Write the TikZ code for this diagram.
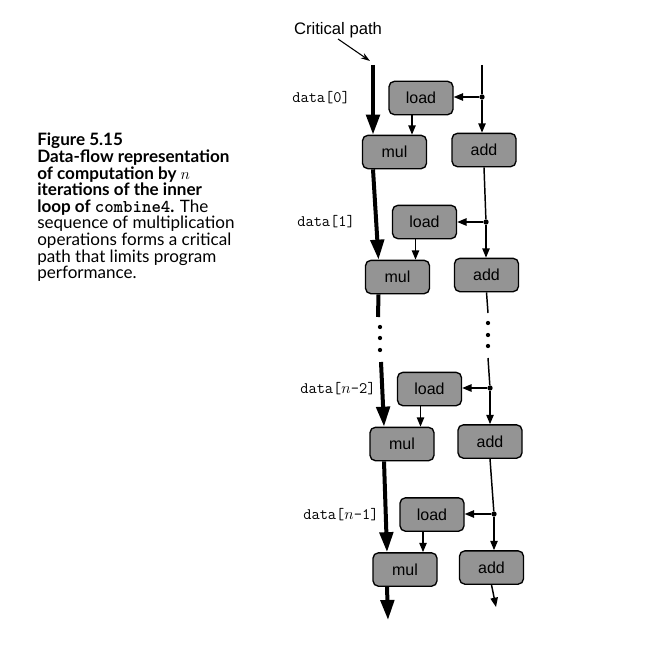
\documentclass[tikz,border=0pt]{standalone}
\usepackage{fontspec}
\setmainfont{Lato}
\setsansfont{Liberation Sans}
\usetikzlibrary{arrows.meta}
\tikzset{
  opbox/.style={draw, line width=1pt, rounded corners=4pt, fill=black!42,
    minimum width=48pt, minimum height=25pt, inner sep=0pt,
    font=\sffamily\fontsize{12}{12}\selectfont},
  critline/.style={line width=3pt, -{Triangle[width=10pt,length=15pt]}},
  critseg/.style={line width=3pt},
  flowline/.style={line width=1.1pt, -{Triangle[width=5.5pt,length=7pt]}},
  flowseg/.style={line width=1.1pt},
  dataname/.style={anchor=west, inner sep=0pt, font=\ttfamily\fontsize{12}{12}\selectfont},
  jdot/.style={circle, fill=black, inner sep=0pt, minimum size=4pt},
  vdot/.style={circle, fill=black, inner sep=0pt, minimum size=3.2pt},
}
\begin{document}
\begin{tikzpicture}[x=0.75pt, y=-0.75pt]
  %%%%% START %%%%%
  \useasboundingbox (0,0) rectangle (654,660);

  \node[anchor=north west, align=left, inner sep=0pt, font=\fontsize{12.8}{12.45}\selectfont] (caption) at (37,133)
    {\textbf{Figure 5.15}\\
     \textbf{Data-flow representation}\\
     \textbf{of computation by $n$}\\
     \textbf{iterations of the inner}\\
     \textbf{loop of {\fontsize{13.5}{12}\selectfont\texttt{combine4}}. }The\\
     sequence of multiplication\\
     operations forms a critical\\
     path that limits program\\
     performance.};

  \node[font=\sffamily\fontsize{12.5}{12}\selectfont] (critlabel) at (338,30) {Critical path};

  % iteration 0
  \node[dataname] (data0) at (292,98) {data[0]};
  \node[opbox] (load0) at (421,98) {load};
  \node[opbox] (mul0) at (394.5,152) {mul};
  \node[opbox] (add0) at (484,150) {add};
  % iteration 1
  \node[dataname] (data1) at (297,222) {data[1]};
  \node[opbox] (load1) at (424.5,222) {load};
  \node[opbox] (mul1) at (397.5,277) {mul};
  \node[opbox] (add1) at (486.5,275) {add};
  % iteration n-2
  \node[dataname] (data2) at (300,389) {data[$n$-2]};
  \node[opbox] (load2) at (429.5,389) {load};
  \node[opbox] (mul2) at (402,444) {mul};
  \node[opbox] (add2) at (490,441.5) {add};
  % iteration n-1
  \node[dataname] (data3) at (303,515) {data[$n$-1]};
  \node[opbox] (load3) at (432,514.5) {load};
  \node[opbox] (mul3) at (405,569.5) {mul};
  \node[opbox] (add3) at (491.5,567.5) {add};

  % junctions on the add column
  \node[jdot] (j0) at (482,97) {};
  \node[jdot] (j1) at (486,222) {};
  \node[jdot] (j2) at (490,388) {};
  \node[jdot] (j3) at (494,514) {};

  \coordinate (crittop) at (373,65);
  \coordinate (addtop) at (482,65);
  \coordinate (critgap) at (378,317);
  \coordinate (critresume) at (381,362);
  \coordinate (addgap) at (488,313);
  \coordinate (addresume) at (488,358);
  \coordinate (critend) at (388,620);
  \coordinate (addend) at (496,607);

  % critical path
  \draw[line width=0.8pt, -{Stealth[length=7pt,width=4.5pt]}] (338,39) -- (370,61);
  \draw[critline] (crittop) -- (crittop |- mul0.north);
  \draw[critline] (crittop |- mul0.south) -- ([xshift=-14.25pt]mul1.north);
  \draw[critseg] ([xshift=-14.25pt]mul1.south) -- (critgap);
  \draw[critline] (critresume) -- ([xshift=-13.5pt]mul2.north);
  \draw[critline] ([xshift=-13.5pt]mul2.south) -- ([xshift=-13.5pt]mul3.north);
  \draw[critline] ([xshift=-13.5pt]mul3.south) -- (critend);
  \foreach \y in {327,338,350} \node[vdot] at (380,\y) {};

  % add column
  \draw[flowseg] (addtop) -- (j0);
  \draw[flowline] (j0) -- (j0 |- add0.north);
  \draw[flowline] (j0) -- (j0 -| load0.east);
  \draw[flowseg] (add0.south) -- (j1);
  \draw[flowline] (j1) -- (j1 |- add1.north);
  \draw[flowline] (j1) -- (j1 -| load1.east);
  \draw[flowseg] (add1.south) -- (addgap);
  \foreach \y in {323,335,346} \node[vdot] at (488,\y) {};
  \draw[flowseg] (addresume) -- (j2);
  \draw[flowline] (j2) -- (j2 |- add2.north);
  \draw[flowline] (j2) -- (j2 -| load2.east);
  \draw[flowseg] (add2.south) -- (j3);
  \draw[flowline] (j3) -- (j3 |- add3.north);
  \draw[flowline] (j3) -- (j3 -| load3.east);
  \draw[flowline] (add3.south) -- (addend);

  % loads feed the multiplies
  \draw[flowline] ([xshift=-6.75pt]load0.south) -- ([xshift=-6.75pt]load0.south |- mul0.north);
  \draw[flowline] ([xshift=-6.75pt]load1.south) -- ([xshift=-6.75pt]load1.south |- mul1.north);
  \draw[flowline] ([xshift=-6.75pt]load2.south) -- ([xshift=-6.75pt]load2.south |- mul2.north);
  \draw[flowline] ([xshift=-6.75pt]load3.south) -- ([xshift=-6.75pt]load3.south |- mul3.north);
  %%%%% END %%%%%
\end{tikzpicture}
\end{document}
